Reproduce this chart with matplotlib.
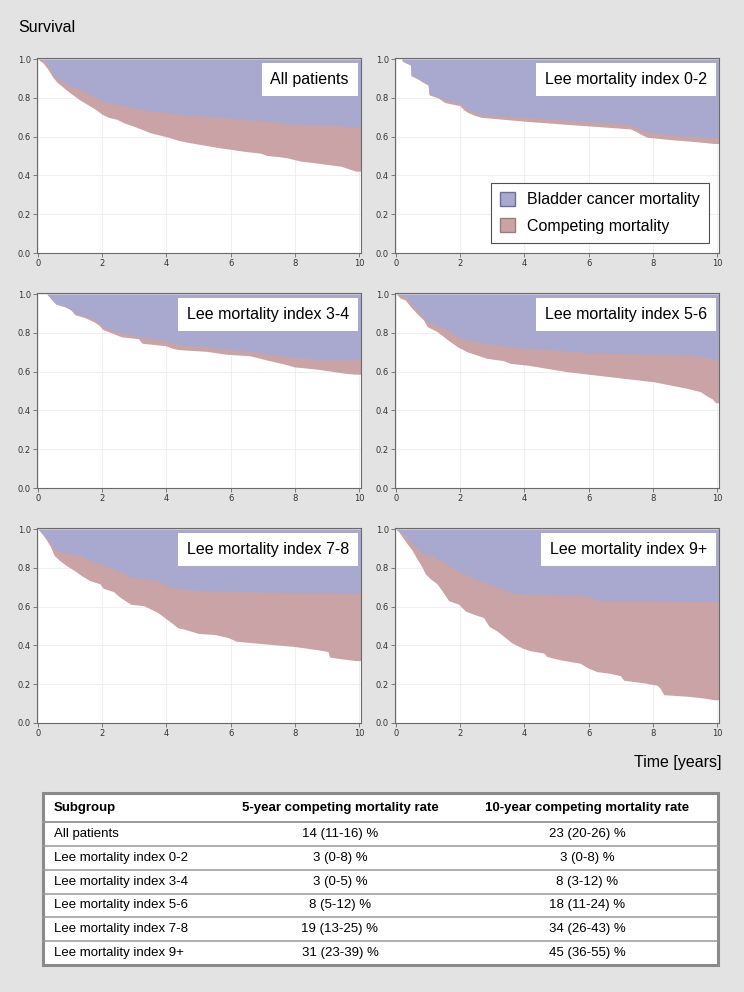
import numpy as np
import matplotlib
matplotlib.use("Agg")
import matplotlib.pyplot as plt
from matplotlib.patches import Patch, Rectangle
from matplotlib.transforms import offset_copy

plt.rcParams['font.family'] = ['Liberation Sans', 'DejaVu Sans']

BLUE = '#a9a9cf'
PINK = '#c9a3a6'
BG = '#e3e3e3'

# --- curves (times in years, values read at those times) ---
# lower edge = overall survival, upper edge = 1 - bladder cancer mortality
all_t_surv = [0, 0.16, 0.3, 0.47, 0.6, 0.75, 0.89, 1.05, 1.3, 1.6, 1.8, 2.0, 2.2, 2.45, 2.7, 2.97, 3.2,
              3.5, 3.75, 4.0, 4.4, 4.7, 5.05, 5.3, 5.57, 6.0, 6.4, 6.93, 7.14, 7.5, 7.76, 8.18, 8.6,
              9.0, 9.43, 9.74, 9.9]
all_surv = [1.0, 0.98, 0.95, 0.905, 0.88, 0.86, 0.84, 0.82, 0.79, 0.76, 0.74, 0.715, 0.70, 0.69, 0.67,
            0.655, 0.64, 0.62, 0.61, 0.60, 0.58, 0.57, 0.56, 0.553, 0.545, 0.535, 0.525, 0.515, 0.503,
            0.497, 0.491, 0.474, 0.466, 0.457, 0.448, 0.431, 0.422]
all_t_bc = [0, 0.2, 0.36, 0.47, 0.6, 0.75, 0.89, 1.1, 1.3, 1.6, 1.93, 2.2, 2.5, 2.97, 3.5, 4.0, 4.6,
            5.0, 6.1, 7.14, 7.97, 9.0, 9.9]
all_bc = [1.0, 0.99, 0.96, 0.92, 0.90, 0.885, 0.87, 0.855, 0.845, 0.82, 0.79, 0.775, 0.765, 0.75,
          0.733, 0.724, 0.712, 0.707, 0.695, 0.68, 0.664, 0.66, 0.65]

lee02_t_surv = [0, 0.18, 0.2, 0.33, 0.45, 0.47, 0.69, 0.9, 1.0, 1.03, 1.31, 1.52, 1.99, 2.1, 2.24,
                2.45, 2.66, 4.0, 5.45, 6.48, 7.3, 7.5, 7.65, 7.83, 8.55, 9.3, 9.9]
lee02_surv = [1.0, 1.0, 0.99, 0.978, 0.97, 0.915, 0.896, 0.875, 0.867, 0.816, 0.80, 0.776, 0.76, 0.74,
              0.725, 0.71, 0.70, 0.68, 0.662, 0.65, 0.64, 0.625, 0.61, 0.597, 0.585, 0.575, 0.565]
lee02_t_bc = [0, 0.18, 0.2, 0.33, 0.45, 0.47, 0.69, 0.9, 1.0, 1.03, 1.31, 1.52, 1.99, 2.1, 2.24,
              2.45, 2.66, 4.0, 5.45, 6.48, 7.3, 7.5, 7.65, 7.83, 8.55, 9.3, 9.9]
lee02_bc = [1.0, 1.0, 0.99, 0.98, 0.975, 0.92, 0.90, 0.88, 0.872, 0.822, 0.806, 0.79, 0.776, 0.755,
            0.74, 0.725, 0.713, 0.70, 0.683, 0.672, 0.662, 0.645, 0.632, 0.623, 0.61, 0.60, 0.594]

lee34_t_surv = [0, 0.28, 0.55, 0.86, 1.02, 1.15, 1.44, 1.76, 1.9, 2.02, 2.29, 2.6, 3.13, 3.24, 3.97,
                4.2, 4.39, 5.24, 5.87, 6.6, 6.9, 7.13, 7.4, 7.66, 7.98, 8.7, 9.56, 9.9]
lee34_surv = [1.0, 1.0, 0.95, 0.934, 0.92, 0.894, 0.88, 0.856, 0.84, 0.818, 0.80, 0.78, 0.77, 0.747,
              0.734, 0.72, 0.714, 0.705, 0.69, 0.682, 0.67, 0.66, 0.65, 0.64, 0.625, 0.613, 0.592, 0.587]
lee34_t_bc = [0, 0.28, 0.55, 0.86, 1.02, 1.15, 1.44, 1.76, 2.02, 2.29, 2.6, 3.24, 3.97, 4.39, 5.24,
              5.87, 6.6, 7.13, 7.66, 7.98, 8.7, 9.9]
lee34_bc = [1.0, 1.0, 0.95, 0.934, 0.92, 0.903, 0.888, 0.87, 0.83, 0.815, 0.80, 0.778, 0.76, 0.738,
            0.73, 0.715, 0.707, 0.69, 0.68, 0.674, 0.665, 0.661]

lee56_t_surv = [0, 0.03, 0.13, 0.29, 0.45, 0.65, 0.86, 0.97, 1.28, 1.59, 1.9, 2.21, 2.52, 2.83, 3.35,
                3.56, 4.08, 4.6, 5.33, 5.95, 6.47, 7.09, 8.03, 8.55, 9.07, 9.48, 9.69, 9.85, 9.95]
lee56_surv = [1.0, 0.997, 0.98, 0.97, 0.936, 0.90, 0.867, 0.833, 0.807, 0.767, 0.73, 0.703, 0.686,
              0.669, 0.657, 0.643, 0.634, 0.62, 0.60, 0.588, 0.578, 0.566, 0.548, 0.531, 0.514, 0.497,
              0.474, 0.46, 0.44]
lee56_t_bc = [0, 0.13, 0.29, 0.45, 0.65, 0.86, 0.97, 1.28, 1.59, 1.9, 2.21, 2.83, 3.56, 4.08, 5.33,
              5.95, 8.03, 9.07, 9.58, 9.9]
lee56_bc = [1.0, 0.995, 0.988, 0.957, 0.92, 0.884, 0.859, 0.84, 0.816, 0.781, 0.764, 0.747, 0.729,
            0.72, 0.707, 0.698, 0.69, 0.686, 0.678, 0.664]

lee78_t_surv = [0, 0.07, 0.23, 0.39, 0.5, 0.66, 0.87, 1.13, 1.35, 1.61, 1.93, 2.03, 2.35, 2.56, 2.88,
                3.3, 3.52, 3.73, 3.94, 4.15, 4.36, 4.58, 5.0, 5.53, 5.95, 6.17, 7.01, 7.97, 8.71, 9.03,
                9.08, 9.55, 9.9]
lee78_surv = [1.0, 0.988, 0.953, 0.91, 0.866, 0.84, 0.814, 0.787, 0.761, 0.735, 0.718, 0.695, 0.678,
              0.648, 0.613, 0.605, 0.587, 0.57, 0.544, 0.518, 0.491, 0.483, 0.462, 0.456, 0.439, 0.422,
              0.409, 0.395, 0.378, 0.369, 0.34, 0.329, 0.322]
lee78_t_bc = [0, 0.07, 0.23, 0.39, 0.5, 0.66, 1.08, 1.4, 1.61, 1.93, 2.35, 2.56, 2.88, 3.73, 3.94,
              4.36, 5.0, 6.06, 7.12, 9.9]
lee78_bc = [1.0, 0.99, 0.96, 0.927, 0.90, 0.883, 0.875, 0.857, 0.84, 0.822, 0.796, 0.779, 0.753,
            0.735, 0.713, 0.692, 0.683, 0.68, 0.674, 0.669]

lee9_t_surv = [0, 0.08, 0.19, 0.34, 0.5, 0.65, 0.81, 0.91, 1.07, 1.28, 1.43, 1.64, 1.95, 2.16, 2.42,
               2.73, 2.89, 3.15, 3.35, 3.61, 3.93, 4.18, 4.6, 4.7, 5.12, 5.74, 5.95, 6.26, 6.68, 6.99,
               7.09, 7.72, 8.13, 8.23, 8.34, 9.07, 9.58, 9.9]
lee9_surv = [1.0, 0.988, 0.962, 0.927, 0.892, 0.848, 0.805, 0.77, 0.744, 0.718, 0.683, 0.631, 0.613,
             0.578, 0.561, 0.544, 0.50, 0.474, 0.448, 0.413, 0.387, 0.373, 0.361, 0.343, 0.326, 0.308,
             0.286, 0.265, 0.256, 0.244, 0.221, 0.207, 0.195, 0.178, 0.146, 0.138, 0.129, 0.12]
lee9_t_bc = [0, 0.08, 0.19, 0.34, 0.5, 0.65, 0.86, 1.17, 1.59, 1.8, 2.0, 2.32, 2.73, 3.04, 3.35, 3.56,
             3.98, 5.12, 5.95, 6.26, 9.9]
lee9_bc = [1.0, 0.99, 0.979, 0.953, 0.927, 0.9, 0.875, 0.857, 0.822, 0.796, 0.779, 0.753, 0.726, 0.709,
           0.692, 0.671, 0.666, 0.66, 0.657, 0.631, 0.627]

panel_titles = ["All patients", "Lee mortality index 0-2", "Lee mortality index 3-4",
                "Lee mortality index 5-6", "Lee mortality index 7-8", "Lee mortality index 9+"]
panel_curves = [(all_t_surv, all_surv, all_t_bc, all_bc),
                (lee02_t_surv, lee02_surv, lee02_t_bc, lee02_bc),
                (lee34_t_surv, lee34_surv, lee34_t_bc, lee34_bc),
                (lee56_t_surv, lee56_surv, lee56_t_bc, lee56_bc),
                (lee78_t_surv, lee78_surv, lee78_t_bc, lee78_bc),
                (lee9_t_surv, lee9_surv, lee9_t_bc, lee9_bc)]

# --- table ---
table_header = ["Subgroup", "5-year competing mortality rate", "10-year competing mortality rate"]
table_groups = ["All patients", "Lee mortality index 0-2", "Lee mortality index 3-4",
                "Lee mortality index 5-6", "Lee mortality index 7-8", "Lee mortality index 9+"]
rate_5y = ["14 (11-16) %", "3 (0-8) %", "3 (0-5) %", "8 (5-12) %", "19 (13-25) %", "31 (23-39) %"]
rate_10y = ["23 (20-26) %", "3 (0-8) %", "8 (3-12) %", "18 (11-24) %", "34 (26-43) %", "45 (36-55) %"]

W, H = 744, 992
fig = plt.figure(figsize=(W / 100, H / 100), dpi=100, facecolor=BG)

col_left = [37, 395]
row_top = [58, 293, 528]
ax_w, ax_h = 324, 195
xmax = 10.06

axes = []
for i, (title, (ts, s, tb, b)) in enumerate(zip(panel_titles, panel_curves)):
    r, c = divmod(i, 2)
    ax = fig.add_axes([col_left[c] / W, 1 - (row_top[r] + ax_h) / H, ax_w / W, ax_h / H])
    ax.set_facecolor('white')
    # hold the last value out to the right edge
    ts2 = np.append(ts, xmax)
    s2 = np.append(s, s[-1])
    tb2 = np.append(tb, xmax)
    b2 = np.append(b, b[-1])
    ax.fill_between(ts2, s2, 1.0, color=PINK, lw=0, zorder=1)
    ax.fill_between(tb2, b2, 1.0, color=BLUE, lw=0, zorder=2)
    ax.set_xlim(-0.03, xmax)
    ax.set_ylim(0, 1.006)
    ax.set_xticks([0, 2, 4, 6, 8, 10])
    ax.set_yticks([0, 0.2, 0.4, 0.6, 0.8, 1.0])
    ax.set_yticklabels(["0.0", "0.2", "0.4", "0.6", "0.8", "1.0"])
    ax.grid(True, color='#ececec', lw=0.6, zorder=0)
    ax.set_axisbelow(True)
    for sp in ax.spines.values():
        sp.set_color('#6a6a6a')
        sp.set_linewidth(0.8)
    ax.tick_params(length=3, width=0.6, color='#6a6a6a', labelsize=6, labelcolor='#333333', pad=1.5)
    for lab in ax.get_xticklabels() + ax.get_yticklabels():
        lab.set_family('DejaVu Sans')
    tr = offset_copy(ax.transAxes, fig=fig, x=-12, y=-14, units='dots')
    ax.text(1, 1, title, transform=tr, ha='right', va='top', fontsize=11.5, zorder=5,
            bbox=dict(boxstyle='square,pad=0.55', fc='white', ec='none'))
    axes.append(ax)

handles = [Patch(facecolor=BLUE, edgecolor='#6f6f99', lw=1.0, label="Bladder cancer mortality"),
           Patch(facecolor=PINK, edgecolor='#a07a7e', lw=1.0, label="Competing mortality")]
leg = axes[1].legend(handles=handles, loc='lower right', fontsize=11.5, frameon=True,
                     fancybox=False, framealpha=1, edgecolor='#505050', borderpad=0.55,
                     labelspacing=0.7, handlelength=0.95, handleheight=0.95,
                     handletextpad=0.75, borderaxespad=0.65)
leg.get_frame().set_linewidth(0.8)
leg.set_zorder(6)

fig.text(18 / W, 1 - 27 / H, "Survival", fontsize=11.5, va='center', ha='left')
fig.text(721 / W, 1 - 763 / H, "Time [years]", fontsize=11.5, va='center', ha='right')

# table drawn in its own pixel-unit axes
tx0, ty0, tw, th = 43, 793, 675, 172
axt = fig.add_axes([tx0 / W, 1 - (ty0 + th) / H, tw / W, th / H])
axt.set_xlim(0, tw)
axt.set_ylim(th, 0)
axt.axis('off')
axt.add_patch(Rectangle((0, 0), tw, th, facecolor='white', edgecolor='#8a8a8a', lw=2.2,
                        clip_on=False))
head_h = 29
row_h = (th - head_h) / len(table_groups)
for k in range(len(table_groups)):
    yline = head_h + k * row_h
    axt.plot([0, tw], [yline, yline], color='#9a9a9a', lw=1.4 if k == 0 else 1.1,
             clip_on=False)
col_x = [11, 297, 544]
tfont = ['Liberation Sans', 'DejaVu Sans']
for j, h in enumerate(table_header):
    axt.text(col_x[j], head_h / 2, h, ha='left' if j == 0 else 'center', va='center',
             fontsize=9.5, fontweight='bold', family=tfont)
for k, (g, a, b) in enumerate(zip(table_groups, rate_5y, rate_10y)):
    yc = head_h + (k + 0.5) * row_h
    axt.text(col_x[0], yc, g, ha='left', va='center', fontsize=9.5, family=tfont)
    axt.text(col_x[1], yc, a, ha='center', va='center', fontsize=9.5, family=tfont)
    axt.text(col_x[2], yc, b, ha='center', va='center', fontsize=9.5, family=tfont)

fig.savefig("out.png", dpi=100, facecolor=BG)
